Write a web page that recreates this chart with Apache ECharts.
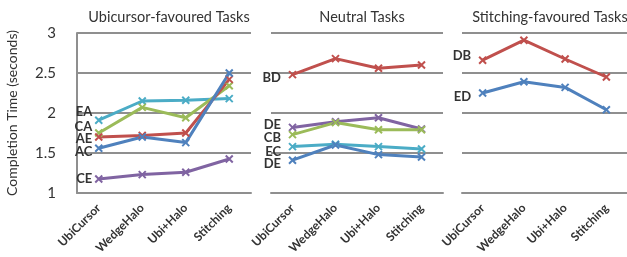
<!DOCTYPE html>
<html>
<head>
<meta charset="utf-8">
<title>Completion time</title>
<script src="https://cdn.jsdelivr.net/npm/echarts@6/dist/echarts.min.js"></script>
</head>
<body style="margin:0">
<div id="chart" style="width:627px;height:257px;"></div>
<script type="text/javascript">
// categories shared by all three panels
var techniques = ['UbiCursor', 'WedgeHalo', 'Ubi+Halo', 'Stitching'];
var panelTitles = ['Ubicursor-favoured Tasks', 'Neutral Tasks', 'Stitching-favoured Tasks'];
var yTicks = [1, 1.5, 2, 2.5, 3];

// panel 1
var ubiNames = ['EA', 'CA', 'AE', 'AC', 'CE'];
var ubiEA = [1.91, 2.15, 2.16, 2.18];
var ubiCA = [1.75, 2.07, 1.94, 2.34];
var ubiAE = [1.70, 1.72, 1.75, 2.42];
var ubiAC = [1.56, 1.70, 1.63, 2.50];
var ubiCE = [1.175, 1.23, 1.26, 1.425];

// panel 2
var neuNames = ['BD', 'DE', 'CB', 'EC', 'DE'];
var neuBD = [2.48, 2.68, 2.56, 2.60];
var neuDE1 = [1.82, 1.89, 1.94, 1.80];
var neuCB = [1.73, 1.88, 1.79, 1.79];
var neuEC = [1.58, 1.61, 1.58, 1.55];
var neuDE2 = [1.41, 1.60, 1.48, 1.45];

// panel 3
var stiNames = ['DB', 'ED'];
var stiDB = [2.66, 2.91, 2.675, 2.45];
var stiED = [2.25, 2.39, 2.32, 2.04];

var blue = '#4F81BD', red = '#C0504D', green = '#9BBB59', purple = '#8064A2', cyan = '#4BACC6';
var cross = 'path://M0 0L10 10M10 0L0 10';

// panel, name, values, colour, label distance, label y offset
var lines = [
	[0, ubiNames[0], ubiEA, cyan, 2, -8],
	[0, ubiNames[1], ubiCA, green, 2, -6],
	[0, ubiNames[2], ubiAE, red, 2, 2],
	[0, ubiNames[3], ubiAC, blue, 2, 4],
	[0, ubiNames[4], ubiCE, purple, 2, 0],
	[1, neuNames[0], neuBD, red, 7, 3],
	[1, neuNames[1], neuDE1, purple, 7, -3],
	[1, neuNames[2], neuCB, green, 7, 3],
	[1, neuNames[3], neuEC, cyan, 7, 5],
	[1, neuNames[4], neuDE2, blue, 7, 4],
	[2, stiNames[0], stiDB, red, 7, -4],
	[2, stiNames[1], stiED, blue, 7, 4]
];

var panels = [[77, 251], [271, 443], [462, 628]];
var gridLine = '#8f8f8f';
var grids = [], xAxes = [], yAxes = [], titles = [];
panels.forEach(function (p, k) {
	grids.push({ left: p[0], width: p[1] - p[0], top: 33, bottom: 64 });
	titles.push({
		text: panelTitles[k], left: (p[0] + p[1]) / 2, top: 5, textAlign: 'center',
		textStyle: { fontFamily: 'Lato', fontWeight: 'normal', fontSize: 14.5, color: '#333' }
	});
	xAxes.push({
		type: 'category', gridIndex: k, data: techniques,
		axisLine: { lineStyle: { color: gridLine, width: 2 } },
		axisTick: { length: 5, lineStyle: { color: gridLine, width: 2 } },
		axisLabel: {
			rotate: 45, margin: 13, fontFamily: 'Lato', fontWeight: 'bold',
			fontSize: 12, color: '#333'
		}
	});
	yAxes.push({
		type: 'value', gridIndex: k, min: yTicks[0], max: yTicks[yTicks.length - 1], interval: 0.5,
		name: k === 0 ? 'Completion Time (seconds)' : '',
		nameLocation: 'middle', nameGap: 58,
		nameTextStyle: { fontFamily: 'Lato', fontSize: 14, color: '#333' },
		axisLine: { show: k === 0, lineStyle: { color: gridLine, width: 2 } },
		axisTick: { show: false },
		axisLabel: { show: k === 0, margin: 21, fontFamily: 'Lato', fontSize: 15, color: '#333' },
		splitLine: { lineStyle: { color: gridLine, width: 2 } }
	});
});

var series = lines.map(function (l) {
	return {
		type: 'line', name: l[1], xAxisIndex: l[0], yAxisIndex: l[0],
		symbol: cross, symbolSize: 7,
		lineStyle: { color: l[3], width: 3 },
		itemStyle: { color: l[3], borderColor: l[3], borderWidth: 2 },
		data: l[2].map(function (v, i) {
			if (i !== 0) return v;
			return {
				value: v,
				label: {
					show: true, position: 'left', distance: l[4], offset: [0, l[5]],
					formatter: l[1], fontFamily: 'Lato', fontWeight: 'bold',
					fontSize: 13, color: '#333'
				}
			};
		}),
		z: 3
	};
});

var myChart = echarts.init(document.getElementById('chart'));
myChart.setOption({
	animation: false,
	title: titles,
	grid: grids,
	xAxis: xAxes,
	yAxis: yAxes,
	series: series
});
</script>
</body>
</html>
